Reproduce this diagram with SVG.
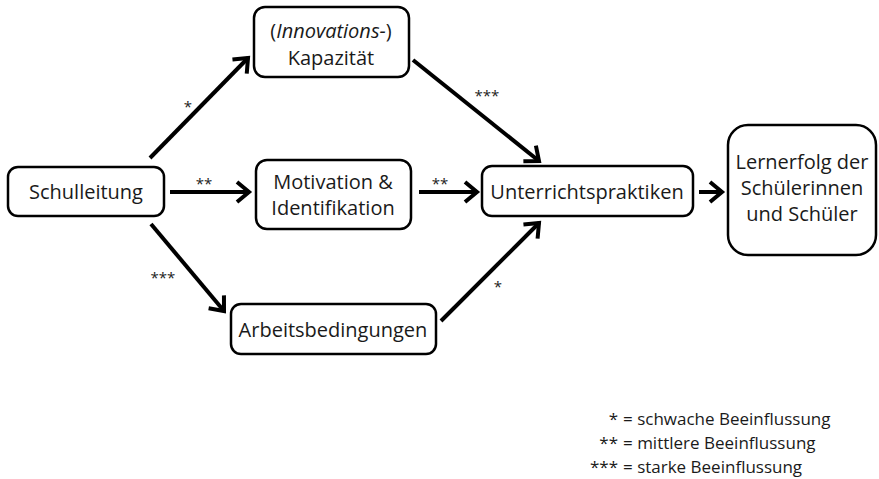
<svg xmlns="http://www.w3.org/2000/svg" width="879" height="479" viewBox="0 0 879 479">
<style>
.box{fill:#fff;stroke:#000;stroke-width:2.5}
.t{font-family:"Open Sans","Noto Sans",sans-serif;font-size:20px;fill:#1a1a1a;text-anchor:middle}
.lab{font-family:"Open Sans","Noto Sans",sans-serif;font-size:15px;fill:#222;text-anchor:middle}
.leg{font-family:"Open Sans","Noto Sans",sans-serif;font-size:17px;fill:#1a1a1a}
.c{stroke:#000;stroke-width:4;fill:none;marker-end:url(#ah)}
</style>
<defs>
<marker id="ah" markerUnits="userSpaceOnUse" markerWidth="30" markerHeight="30" viewBox="-16 -15 20 30" refX="0" refY="0" orient="auto">
<path d="M -12 -10 L 0 0 L -12 10" fill="none" stroke="#000" stroke-width="4" stroke-linejoin="miter"/>
</marker>
</defs>
<rect width="879" height="479" fill="#fff"/>
<g id="connectors">
<line class="c" x1="150" y1="158" x2="248" y2="58"/>
<line class="c" x1="170" y1="192" x2="249" y2="192"/>
<line class="c" x1="151" y1="224" x2="224" y2="311"/>
<line class="c" x1="419" y1="192" x2="477" y2="192"/>
<line class="c" x1="413" y1="60" x2="539" y2="161"/>
<line class="c" x1="441" y1="321" x2="539" y2="223"/>
<line class="c" x1="699" y1="192" x2="722" y2="192"/>
<text class="lab" x="188" y="112">*</text>
<text class="lab" x="204" y="189">**</text>
<text class="lab" x="163" y="283">***</text>
<text class="lab" x="440" y="189">**</text>
<text class="lab" x="487" y="101">***</text>
<text class="lab" x="498" y="292">*</text>
</g>
<g id="schulleitung">
<rect class="box" x="8" y="167" width="156" height="49" rx="10"/>
<text class="t" x="86" y="199">Schulleitung</text>
</g>
<g id="kapazitaet">
<rect class="box" x="254" y="7" width="155" height="70" rx="11"/>
<text class="t" x="331" y="38">(<tspan font-style="italic">Innovations-</tspan>)</text>
<text class="t" x="331" y="65">Kapazität</text>
</g>
<g id="motivation">
<rect class="box" x="256" y="160" width="155" height="69" rx="11"/>
<text class="t" x="333" y="189">Motivation &amp;</text>
<text class="t" x="333" y="215">Identifikation</text>
</g>
<g id="arbeitsbedingungen">
<rect class="box" x="231" y="304" width="205" height="50" rx="10"/>
<text class="t" x="333" y="337">Arbeitsbedingungen</text>
</g>
<g id="unterricht">
<rect class="box" x="482" y="166" width="211" height="50" rx="10"/>
<text class="t" x="587" y="199">Unterrichtspraktiken</text>
</g>
<g id="lernerfolg">
<rect class="box" x="728" y="125" width="148" height="130" rx="20"/>
<text class="t" x="802" y="169">Lernerfolg der</text>
<text class="t" x="802" y="195">Schülerinnen</text>
<text class="t" x="802" y="221">und Schüler</text>
</g>
<g id="legend">
<text class="leg" x="618" y="425" text-anchor="end">*</text>
<text class="leg" x="623" y="425">= schwache Beeinflussung</text>
<text class="leg" x="618" y="449" text-anchor="end">**</text>
<text class="leg" x="623" y="449">= mittlere Beeinflussung</text>
<text class="leg" x="618" y="473" text-anchor="end">***</text>
<text class="leg" x="623" y="473">= starke Beeinflussung</text>
</g>
</svg>
